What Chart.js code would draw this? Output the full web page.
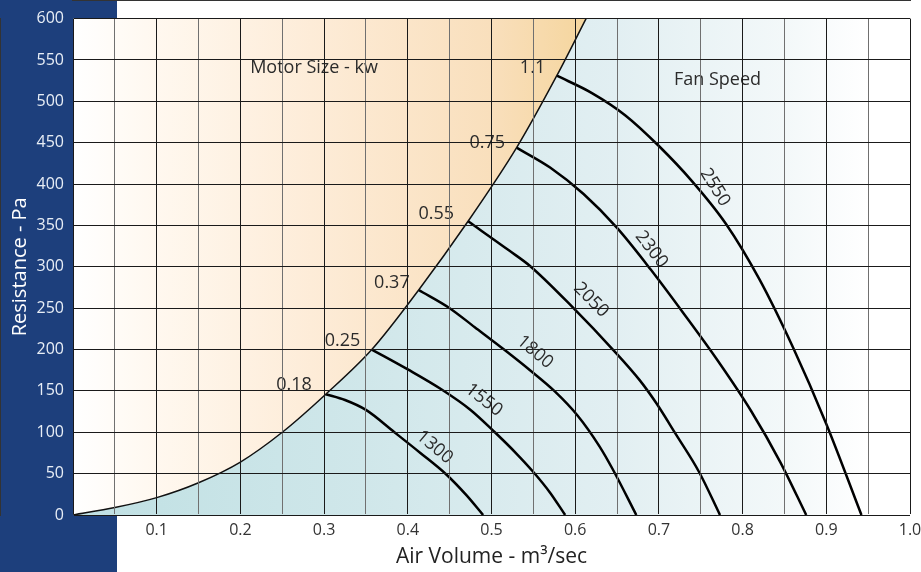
<!DOCTYPE html>
<html>
<head>
<meta charset="utf-8">
<script src="https://cdn.jsdelivr.net/npm/chart.js@4.4.1/dist/chart.umd.min.js"></script>
<style>
  html, body { margin: 0; padding: 0; background: #fff; }
  canvas { display: block; }
</style>
</head>
<body>
<canvas id="chart" width="921" height="572"></canvas>
<script>
// x tick labels (every 0.1 m3/sec), gridlines every 0.05
const xTickLabels = ['0.1', '0.2', '0.3', '0.4', '0.5', '0.6', '0.7', '0.8', '0.9', '1.0'];

// motor size limit curve [air volume, resistance]
const motorBoundary = [[0, 0], [0.05, 9], [0.1, 21], [0.15, 39], [0.2, 64], [0.25, 100], [0.302, 146],
  [0.357, 200], [0.413, 272], [0.472, 355], [0.53, 444], [0.578, 531], [0.613, 600]];
const motorSizes = ['0.18', '0.25', '0.37', '0.55', '0.75', '1.1'];
const motorLabelAt = [[0.264, 157], [0.322, 210], [0.381, 281], [0.434, 364], [0.495, 450], [0.549, 540]];

// fan speed curves
const fanSpeeds = ['1300', '1550', '1800', '2050', '2300', '2550'];
const fan1300 = [[0.302, 146], [0.325, 139], [0.35, 127], [0.384, 100], [0.415, 75], [0.446, 49], [0.47, 24], [0.49, 0]];
const fan1550 = [[0.357, 200], [0.4, 176], [0.44, 152], [0.475, 127], [0.504, 100], [0.53, 74], [0.55, 52], [0.57, 27], [0.588, 0]];
const fan1800 = [[0.413, 272], [0.45, 250], [0.48, 227], [0.515, 200], [0.546, 175], [0.575, 150], [0.603, 120], [0.629, 83], [0.645, 55], [0.673, 0]];
const fan2050 = [[0.472, 355], [0.522, 319], [0.546, 301], [0.598, 250], [0.645, 200], [0.677, 163], [0.697, 135], [0.72, 98], [0.748, 52], [0.773, 0]];
const fan2300 = [[0.53, 444], [0.57, 420], [0.61, 388], [0.65, 347], [0.69, 297], [0.73, 243], [0.77, 187], [0.81, 126], [0.845, 64], [0.876, 0]];
const fan2550 = [[0.578, 531], [0.62, 510], [0.66, 483], [0.7, 446], [0.74, 403], [0.78, 352], [0.82, 285], [0.86, 203], [0.9, 110], [0.942, 0]];
const fanCurves = [fan1300, fan1550, fan1800, fan2050, fan2300, fan2550];
// label anchor [x, y, angle deg]
const fanLabelAt = [[0.432, 82, 40], [0.491, 139, 38], [0.552, 197, 40], [0.619, 260, 45], [0.691, 321, 52], [0.767, 396, 58]];

const FONT = "'Open Sans', 'Noto Sans', sans-serif";
const toPts = arr => arr.map(([x, y]) => ({ x, y }));

function orangeFill(context) {
  const { ctx, chartArea } = context.chart;
  if (!chartArea) return '#f8dfb8';
  const g = ctx.createLinearGradient(chartArea.left, 0, chartArea.right, 0);
  g.addColorStop(0, '#ffffff');
  g.addColorStop(0.1, '#fff8ef');
  g.addColorStop(0.3, '#fdebd6');
  g.addColorStop(0.5, '#f9dfbc');
  g.addColorStop(0.62, '#f5d59c');
  g.addColorStop(1, '#f5d59c');
  return g;
}

const background = {
  id: 'background',
  beforeDraw(chart) {
    const { ctx, chartArea: a, height } = chart;
    ctx.save();
    ctx.fillStyle = '#1d3f7c';
    ctx.fillRect(0, 0, 117, height);
    const g = ctx.createLinearGradient(a.left, 0, a.right, 0);
    g.addColorStop(0, '#bfe0e3');
    g.addColorStop(0.35, '#d0e7ea');
    g.addColorStop(0.65, '#e2eff2');
    g.addColorStop(0.85, '#f3f8f9');
    g.addColorStop(0.95, '#ffffff');
    g.addColorStop(1, '#ffffff');
    ctx.fillStyle = g;
    ctx.fillRect(a.left, a.top, a.width, a.height);
    ctx.restore();
  }
};

const curveLabels = {
  id: 'curveLabels',
  afterDatasetsDraw(chart) {
    const { ctx, scales: { x, y } } = chart;
    ctx.save();
    ctx.fillStyle = '#2b2b2b';
    ctx.textAlign = 'center';
    ctx.textBaseline = 'middle';
    ctx.font = '18px ' + FONT;
    motorSizes.forEach((t, i) => {
      ctx.fillText(t, x.getPixelForValue(motorLabelAt[i][0]), y.getPixelForValue(motorLabelAt[i][1]));
    });
    ctx.fillText('Motor Size - kw', x.getPixelForValue(0.288), y.getPixelForValue(540));
    ctx.fillText('Fan Speed', x.getPixelForValue(0.77), y.getPixelForValue(526));
    fanSpeeds.forEach((t, i) => {
      const [lx, ly, ang] = fanLabelAt[i];
      ctx.save();
      ctx.translate(x.getPixelForValue(lx), y.getPixelForValue(ly));
      ctx.rotate(ang * Math.PI / 180);
      ctx.fillText(t, 0, 0);
      ctx.restore();
    });
    ctx.restore();
  }
};

const datasets = [{
  label: 'Motor Size',
  data: toPts(motorBoundary),
  borderColor: '#111',
  borderWidth: 1.5,
  pointRadius: 0,
  cubicInterpolationMode: 'monotone',
  fill: 'end',
  backgroundColor: orangeFill
}].concat(fanCurves.map((c, i) => ({
  label: fanSpeeds[i],
  data: toPts(c),
  borderColor: '#000',
  borderWidth: 2.5,
  pointRadius: 0,
  cubicInterpolationMode: 'monotone',
  fill: false
})));

new Chart(document.getElementById('chart'), {
  type: 'line',
  data: { datasets },
  options: {
    responsive: false,
    animation: false,
    layout: { padding: { left: 0, right: 11, top: 17, bottom: 0 } },
    plugins: { legend: { display: false }, tooltip: { enabled: false } },
    scales: {
      x: {
        type: 'linear',
        min: 0,
        max: 1,
        afterFit(scale) {
          scale.height = 57;
          scale.paddingLeft = 0;
          scale.paddingRight = 0;
        },
        grid: {
          z: 1,
          drawTicks: false,
          lineWidth: 1,
          color: c => (c.tick && Math.round(c.tick.value * 20) % 2 ? '#707070' : '#1a1a1a')
        },
        border: { display: true, color: '#333', width: 2 },
        ticks: {
          stepSize: 0.05,
          autoSkip: false,
          maxRotation: 0,
          padding: 6,
          color: '#333',
          font: { family: FONT, size: 16 },
          callback: v => {
            const k = Math.round(v * 20);
            return k > 0 && k % 2 === 0 ? xTickLabels[k / 2 - 1] : '';
          }
        },
        title: {
          display: true,
          text: 'Air Volume - m³/sec',
          color: '#222',
          font: { family: FONT, size: 21 },
          padding: { top: 0, bottom: 2 }
        }
      },
      y: {
        min: 0,
        max: 600,
        afterFit(scale) { scale.width = 73; },
        grid: { z: 1, drawTicks: false, lineWidth: 1, color: '#1a1a1a' },
        border: { display: true, color: '#333', width: 2 },
        ticks: {
          stepSize: 50,
          padding: 9,
          color: '#e8eef6',
          font: { family: FONT, size: 16 }
        },
        title: {
          display: true,
          text: 'Resistance - Pa',
          color: '#ffffff',
          font: { family: FONT, size: 20 },
          padding: { top: 8, bottom: 0 }
        }
      }
    }
  },
  plugins: [background, curveLabels]
});
</script>
</body>
</html>
